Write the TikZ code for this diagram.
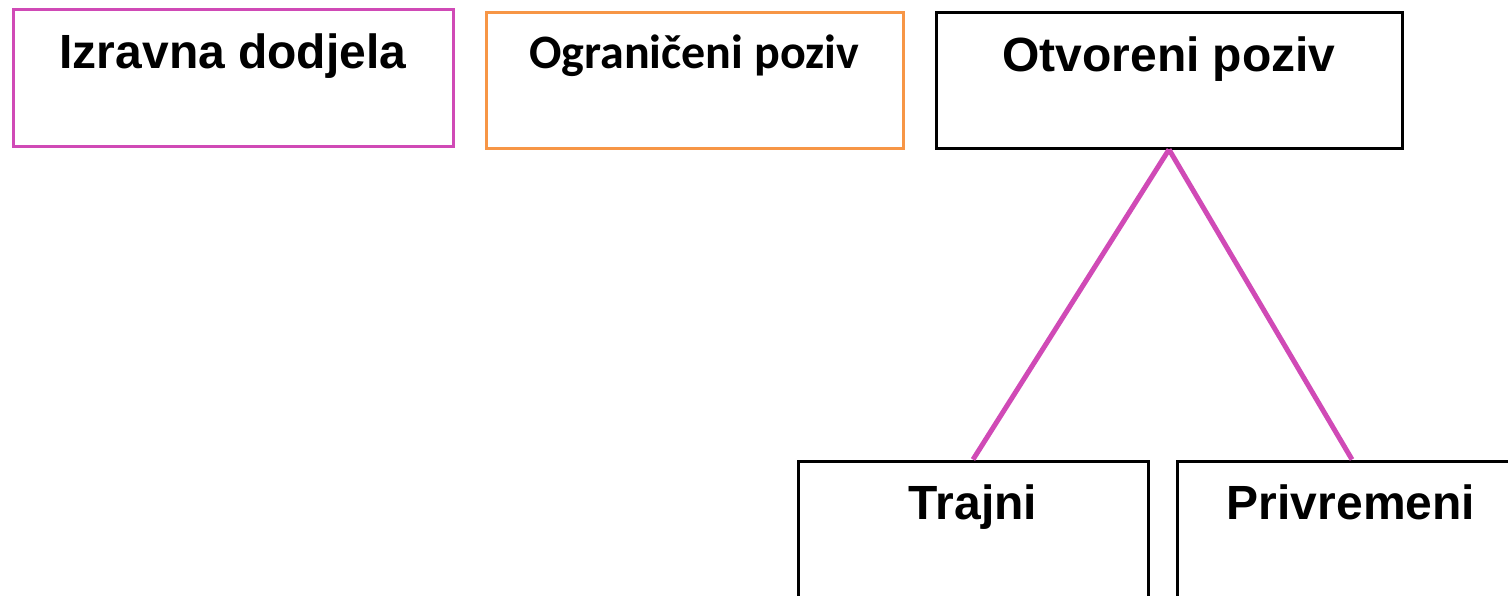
\documentclass[tikz,border=0pt]{standalone}
\usepackage{fontspec}
\setmainfont{Liberation Sans}
\newfontfamily\calfont{Carlito}
\definecolor{mag}{RGB}{208,74,182}
\definecolor{org}{RGB}{247,150,70}
\begin{document}
\begin{tikzpicture}[x=1pt,y=-1pt,
  box/.style={draw, rectangle, inner sep=0pt, line width=3pt},
  lbl/.style={anchor=base, inner sep=0pt, font=\fontsize{48}{52}\selectfont\bfseries},
  conn/.style={draw=mag, line width=5pt}]
\useasboundingbox (0,0) rectangle (1508,595);
\clip (0,0) rectangle (1508,595);
\node[box, draw=mag, minimum width=440pt, minimum height=137pt] (b1) at (233,77.5) {};
\node[box, draw=org, minimum width=417pt, minimum height=136pt] (b2) at (694.5,80) {};
\node[box, draw=black, minimum width=466pt, minimum height=136pt] (b3) at (1169,80) {};
\node[box, draw=black, minimum width=350pt, minimum height=140pt] (b4) at (973,531) {};
\node[box, draw=black, minimum width=350pt, minimum height=140pt] (b5) at (1352,531) {};
\node[lbl] (t1) at (233,68) {Izravna dodjela};
\node[lbl, font=\calfont\fontsize{48}{52}\selectfont\bfseries] (t2) at (694,68) {Ograničeni poziv};
\node[lbl] (t3) at (1169,71) {Otvoreni poziv};
\node[lbl] (t4) at (973,519) {Trajni};
\node[lbl] (t5) at (1351,519) {Privremeni};
\draw[conn] (b3.south) -- (b4.north);
\draw[conn] (b3.south) -- (b5.north);
\end{tikzpicture}
\end{document}
